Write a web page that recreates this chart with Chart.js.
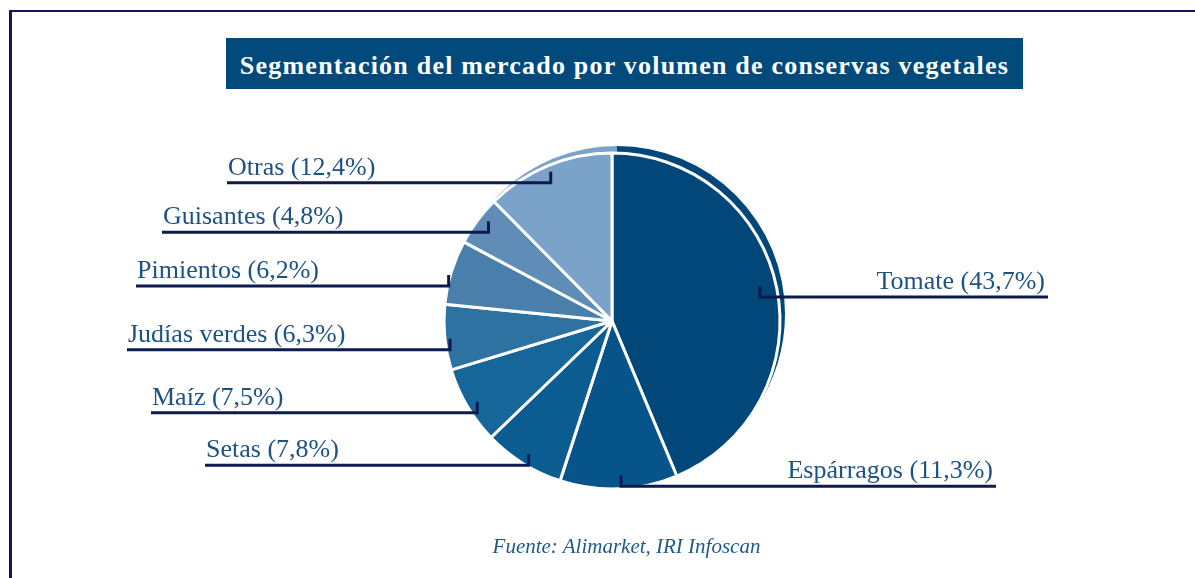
<!DOCTYPE html>
<html>
<head>
<meta charset="utf-8">
<script src="https://cdn.jsdelivr.net/npm/chart.js@4"></script>
<style>
  html, body { margin: 0; padding: 0; background: #fff; }
  #wrap { position: relative; width: 1195px; height: 578px; overflow: hidden; }
  #marco { position: absolute; left: 9px; top: 10px; width: 1200px; height: 600px;
           border-left: 3px solid #15155c; border-top: 2px solid #15155c; }
  #titulo { position: absolute; left: 226px; top: 38px; width: 797px; height: 51px;
            background: #024a7c; color: #fff; text-align: center;
            font: bold 26px "Liberation Serif", serif; letter-spacing: 1.22px; line-height: 55px; }
  #fuente { position: absolute; left: 0; width: 1253px; top: 536px; text-align: center;
            font: italic 21px "Liberation Serif", serif; color: #1d5a8e; line-height: 20px; }
  canvas { position: absolute; left: 0; top: 0; }
</style>
</head>
<body>
<div id="wrap">
  <div id="marco"></div>
  <canvas id="grafico" width="1195" height="578"></canvas>
  <div id="titulo">Segmentación del mercado por volumen de conservas vegetales</div>
  <div id="fuente">Fuente: Alimarket, IRI Infoscan</div>
</div>
<script>
// datos (orden horario desde arriba)
const categorias = ["Tomate", "Espárragos", "Setas", "Maíz", "Judías verdes", "Pimientos", "Guisantes", "Otras"];
const porcentajes = [43.7, 11.3, 7.8, 7.5, 6.3, 6.2, 4.8, 12.4];
const colores = ["#02477a", "#07548a", "#0b5c90", "#166699", "#2d72a1", "#4a7eab", "#5f8db8", "#7ba2c8"];

// disposición de las etiquetas
const extremoLinea = [1048, 996, 205, 151, 127, 136, 162, 227]; // x del extremo exterior de la línea
const lado = ["der", "der", "izq", "izq", "izq", "izq", "izq", "izq"];
const radioAncla = [0.905, 0.92, 0.935, 0.935, 0.97, 1.01, 0.945, 0.96];
const desvioAngulo = [-2, -1, 0, -0.5, -0.7, -1.2, 2.2, 0]; // grados

function fmt(v) {
  return v.toFixed(1).replace(".", ",");
}

// sombra desplazada detrás del pastel
const sombra = {
  id: "sombra",
  beforeDatasetsDraw(chart) {
    const ctx = chart.ctx;
    const meta = chart.getDatasetMeta(0);
    ctx.save();
    meta.data.forEach((arc, i) => {
      const p = arc.getProps(["x", "y", "startAngle", "endAngle", "outerRadius"], true);
      const cx = p.x + 5, cy = p.y - 7;
      ctx.beginPath();
      ctx.moveTo(cx, cy);
      ctx.arc(cx, cy, p.outerRadius, p.startAngle, p.endAngle);
      ctx.closePath();
      ctx.fillStyle = colores[i];
      ctx.fill();
    });
    ctx.restore();
  }
};

// líneas guía y etiquetas
const etiquetas = {
  id: "etiquetas",
  afterDatasetsDraw(chart) {
    const ctx = chart.ctx;
    const meta = chart.getDatasetMeta(0);
    ctx.save();
    ctx.font = '26px "Liberation Serif", serif';
    ctx.textBaseline = "alphabetic";
    meta.data.forEach((arc, i) => {
      const p = arc.getProps(["x", "y", "startAngle", "endAngle", "outerRadius"], true);
      const medio = (p.startAngle + p.endAngle) / 2 + desvioAngulo[i] * Math.PI / 180;
      const ax = p.x + Math.cos(medio) * p.outerRadius * radioAncla[i];
      const ay = p.y + Math.sin(medio) * p.outerRadius * radioAncla[i];
      const ly = ay + 11;

      ctx.strokeStyle = "#0c1a4c";
      ctx.lineWidth = 3;
      ctx.lineJoin = "miter";
      ctx.beginPath();
      ctx.moveTo(ax, ay);
      ctx.lineTo(ax, ly);
      ctx.lineTo(extremoLinea[i], ly);
      ctx.stroke();

      const texto = `${categorias[i]} (${fmt(porcentajes[i])}%)`;
      ctx.fillStyle = "#1d5284";
      if (lado[i] === "der") {
        ctx.textAlign = "right";
        ctx.fillText(texto, extremoLinea[i] - 3, ly - 8);
      } else {
        ctx.textAlign = "left";
        ctx.fillText(texto, extremoLinea[i] + 1, ly - 8);
      }
    });
    ctx.restore();
  }
};

new Chart(document.getElementById("grafico"), {
  type: "pie",
  data: {
    labels: categorias,
    datasets: [{
      data: porcentajes,
      backgroundColor: colores,
      borderColor: "#ffffff",
      borderWidth: 3,
      radius: 168
    }]
  },
  options: {
    responsive: false,
    devicePixelRatio: 1,
    animation: false,
    layout: { padding: { left: 400, right: 371, top: 150, bottom: 86 } },
    plugins: {
      legend: { display: false },
      tooltip: { enabled: false }
    }
  },
  plugins: [sombra, etiquetas]
});
</script>
</body>
</html>
